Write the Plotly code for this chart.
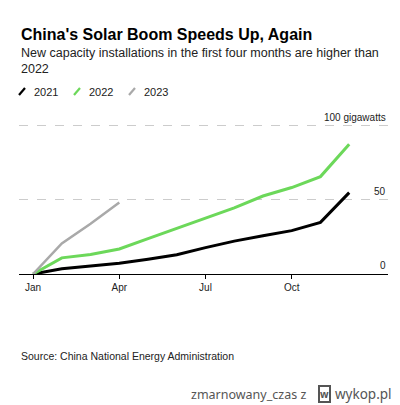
import plotly.graph_objects as go

months = ["Jan", "Feb", "Mar", "Apr", "May", "Jun", "Jul", "Aug", "Sep", "Oct", "Nov", "Dec"]
tick_months = ["Jan", "Apr", "Jul", "Oct"]
y2021 = [0, 3.5, 5.4, 7.2, 9.9, 13.0, 17.8, 22.2, 25.8, 29.3, 34.9, 55.0]
y2022 = [0, 10.9, 13.2, 16.9, 23.9, 31.0, 38.0, 44.7, 52.7, 58.4, 65.8, 87.6]
y2023 = [0, 20.6, 34.0, 48.3]
y_ticks = [0, 50, 100]
y_tick_text = ["0", "50", "100 gigawatts"]

series = [
    ("2021", y2021, "#000000", 3),
    ("2022", y2022, "#6cd85a", 3),
    ("2023", y2023, "#a9a9a9", 2.5),
]

W, H = 400, 405
L, R, T, B = 19, 388, 110, 274  # plot area in pixels


def px(x):
    return (x - L) / (R - L)


def py(y):
    return (B - y) / (B - T)


FONT = "Liberation Sans"
fig = go.Figure()
xs = list(range(len(months)))
for name, vals, color, w in series:
    fig.add_trace(go.Scatter(x=xs[:len(vals)], y=vals, mode="lines", name=name,
                             line=dict(color=color, width=w), showlegend=False,
                             hoverinfo="skip"))

fig.update_layout(
    width=W, height=H,
    margin=dict(l=L, r=W - R, t=T, b=H - B, pad=0),
    paper_bgcolor="white", plot_bgcolor="white",
    font=dict(family=FONT, color="#000"),
    xaxis=dict(range=[-0.49, 12.35], tickvals=[months.index(m) for m in tick_months],
               ticktext=tick_months, showgrid=False, zeroline=False,
               showline=True, linecolor="#000", linewidth=1,
               ticks="outside", ticklen=4, tickcolor="#000", tickwidth=1,
               tickfont=dict(size=10, color="#222"), fixedrange=True),
    yaxis=dict(range=[0, 110.8], tickvals=y_ticks[1:], showticklabels=False,
               showgrid=True, gridcolor="#cccccc", griddash="dash", gridwidth=1,
               zeroline=False, showline=False, fixedrange=True),
)

for v, t in zip(y_ticks, y_tick_text):
    fig.add_annotation(x=1, xref="paper", y=v, yref="y", text=t, showarrow=False,
                       xanchor="right", yanchor="bottom", yshift=1,
                       font=dict(size=10, color="#222", family=FONT))

# Title, subtitle
fig.add_annotation(x=px(19), xref="paper", y=py(24), yref="paper", yanchor="top",
                   xanchor="left", showarrow=False,
                   text="<b>China's Solar Boom Speeds Up, Again</b>",
                   font=dict(size=16, color="#000", family=FONT))

fig.add_annotation(x=px(19), xref="paper", y=py(44), yref="paper", yanchor="top",
                   xanchor="left", align="left", showarrow=False,
                   text="New capacity installations in the first four months are higher than<br>2022",
                   font=dict(size=12.5, color="#222", family=FONT))

# Legend
leg_x = [19, 74, 129]
for (name, vals, color, w), lx in zip(series, leg_x):
    fig.add_shape(type="line", xref="paper", yref="paper",
                  x0=px(lx), x1=px(lx + 6), y0=py(95), y1=py(88),
                  line=dict(color=color, width=2.2))
    fig.add_annotation(x=px(lx + 13), xref="paper", y=py(91.5), yref="paper",
                       xanchor="left", yanchor="middle", showarrow=False, text=name,
                       font=dict(size=11, color="#222", family=FONT))

# Source
fig.add_annotation(x=px(19), xref="paper", y=py(356), yref="paper", yanchor="middle",
                   xanchor="left", showarrow=False,
                   text="Source: China National Energy Administration",
                   font=dict(size=10.5, color="#222", family=FONT))

# Watermark
fig.add_annotation(x=px(308), xref="paper", y=py(394), yref="paper", yanchor="middle",
                   xanchor="right", showarrow=False,
                   text="zmarnowany_czas z",
                   font=dict(size=12.5, color="#555", family="Noto Sans"))
fig.add_annotation(x=px(324), xref="paper", y=py(394), yref="paper", yanchor="middle",
                   xanchor="center", showarrow=False, text="<b>w</b>",
                   bordercolor="#555", borderwidth=2, borderpad=0,
                   font=dict(size=10, color="#555", family="Noto Sans"))
fig.add_annotation(x=px(394), xref="paper", y=py(394), yref="paper", yanchor="middle",
                   xanchor="right", showarrow=False, text="wykop.pl",
                   font=dict(size=13.5, color="#555", family="Noto Sans"))

fig.write_html("out.html", config={"displayModeBar": False},
               post_script="document.body.style.margin='0';")
